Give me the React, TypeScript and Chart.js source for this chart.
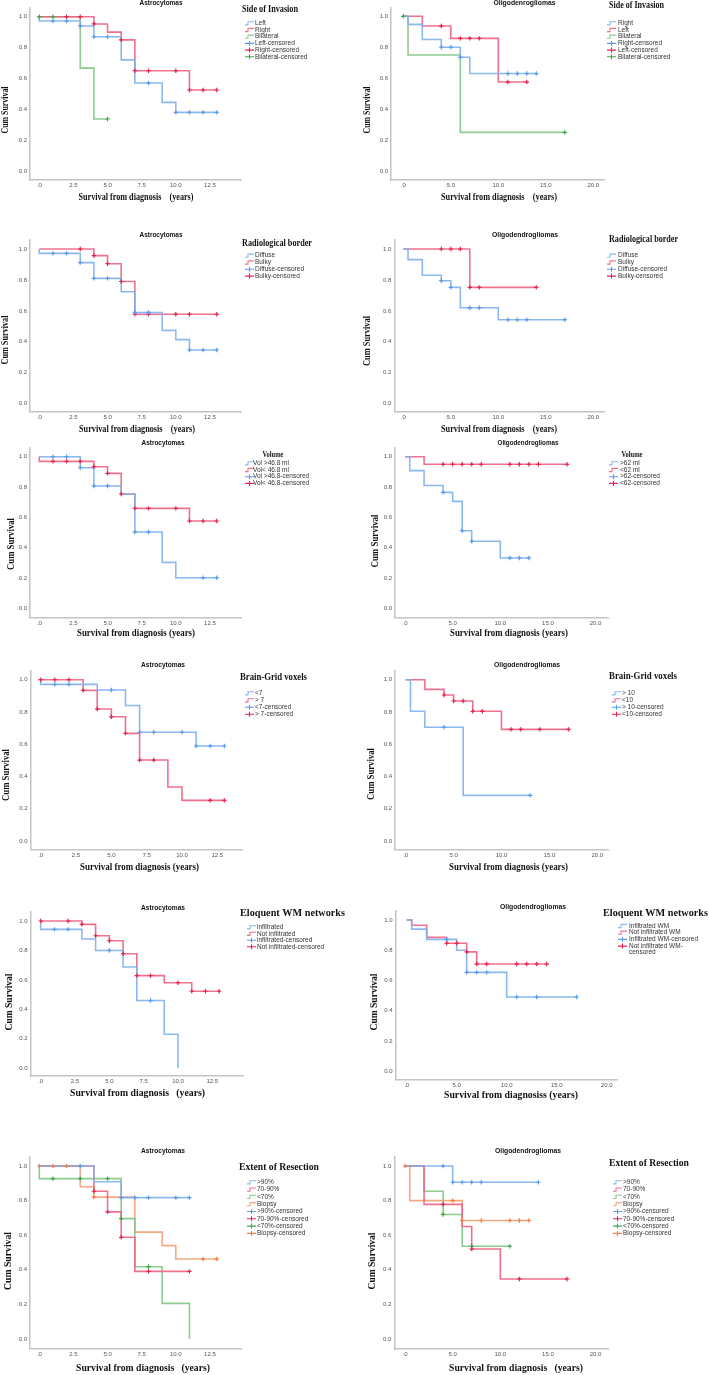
import React, { useEffect, useRef } from "react";
import { Chart, registerables } from "chart.js";
Chart.register(...registerables);

// ---------------- ticks ----------------
const yTickValues = [0, 0.2, 0.4, 0.6, 0.8, 1.0];
const xTicksAstro = [0, 2.5, 5, 7.5, 10, 12.5];
const xTicksOligo = [0, 5, 10, 15, 20];

// ---------------- Row 1 : Side of Invasion ----------------
const a1Groups = ["Left", "Right", "Bilateral"];
const a1LeftT = [0, 0, 3, 4, 6, 7, 9, 10, 13];
const a1LeftS = [1, 0.972, 0.94, 0.87, 0.72, 0.57, 0.445, 0.38, 0.38];
const a1LeftC = [1, 2, 3, 4, 5, 8, 10, 11, 12, 13];
const a1RightT = [0, 4, 5, 6, 7, 11, 13];
const a1RightS = [1, 0.953, 0.9, 0.85, 0.65, 0.525, 0.525];
const a1RightC = [2, 3, 4, 6, 7, 8, 10, 11, 12, 13];
const a1BilT = [0, 3, 4, 5];
const a1BilS = [1, 0.667, 0.337, 0.337];
const a1BilC = [0, 1, 5];

const o1Groups = ["Right", "Left", "Bilateral"];
const o1RightT = [0, 0.5, 2, 4, 6, 7, 14];
const o1RightS = [1, 0.948, 0.85, 0.8, 0.735, 0.63, 0.63];
const o1RightC = [4, 5, 6, 11, 12, 13, 14];
const o1LeftT = [0, 2, 5, 10, 13];
const o1LeftS = [1, 0.9375, 0.857, 0.575, 0.575];
const o1LeftC = [4, 6, 7, 8, 11, 13];
const o1BilT = [0, 0.5, 6, 17];
const o1BilS = [1, 0.75, 0.25, 0.25];
const o1BilC = [0, 17];

// ---------------- Row 2 : Radiological border ----------------
const a2Groups = ["Diffuse", "Bulky"];
const a2DiffT = [0, 0, 3, 4, 6, 7, 9, 10, 11, 13];
const a2DiffS = [1, 0.972, 0.912, 0.81, 0.724, 0.59, 0.474, 0.414, 0.347, 0.347];
const a2DiffC = [1, 2, 3, 4, 5, 7, 8, 11, 12, 13];
const a2BulkT = [0, 4, 5, 6, 7, 13];
const a2BulkS = [1, 0.957, 0.905, 0.79, 0.578, 0.578];
const a2BulkC = [3, 4, 5, 6, 7, 8, 10, 11, 13];

const o2Groups = ["Diffuse", "Bulky"];
const o2DiffT = [0, 0.5, 2, 4, 5, 6, 10, 17];
const o2DiffS = [1, 0.931, 0.83, 0.795, 0.752, 0.62, 0.543, 0.543];
const o2DiffC = [4, 5, 7, 8, 11, 12, 13, 17];
const o2BulkT = [0, 7, 14];
const o2BulkS = [1, 0.752, 0.752];
const o2BulkC = [4, 5, 6, 7, 8, 14];

// ---------------- Row 3 : Volume ----------------
const a3Groups = ["Vol >46.8 ml", "Vol< 46.8 ml"];
const a3CensLabels = ["Vol >46.8-censored", "Vol< 46.8-censored"];
const a3HiT = [0, 3, 4, 6, 7, 9, 10, 13];
const a3HiS = [1, 0.927, 0.807, 0.752, 0.503, 0.303, 0.202, 0.202];
const a3HiC = [1, 2, 3, 4, 5, 7, 8, 12, 13];
const a3LoT = [0, 0, 4, 5, 6, 7, 11, 13];
const a3LoS = [1, 0.969, 0.934, 0.89, 0.754, 0.659, 0.576, 0.576];
const a3LoC = [1, 2, 3, 4, 5, 6, 7, 8, 10, 11, 12, 13];

const o3Groups = [">62 ml", "<62 ml"];
const o3CensLabels = [">62-censored", "<62-censored"];
const o3HiT = [0, 0.5, 2, 4, 5, 6, 7, 10, 13];
const o3HiS = [1, 0.908, 0.81, 0.765, 0.705, 0.512, 0.442, 0.332, 0.332];
const o3HiC = [4, 6, 7, 11, 12, 13];
const o3LoT = [0, 2, 17];
const o3LoS = [1, 0.95, 0.95];
const o3LoC = [4, 5, 6, 7, 8, 11, 12, 13, 14, 17];

// ---------------- Row 4 : Brain-Grid voxels ----------------
const a4Groups = ["<7", "> 7"];
const a4LtT = [0, 0, 4, 6, 7, 11, 13];
const a4LtS = [1, 0.971, 0.936, 0.84, 0.674, 0.589, 0.589];
const a4LtC = [1, 2, 5, 7, 8, 10, 11, 12, 13];
const a4GtT = [0, 3, 4, 5, 6, 7, 9, 10, 13];
const a4GtS = [1, 0.934, 0.818, 0.77, 0.667, 0.502, 0.335, 0.252, 0.252];
const a4GtC = [0, 1, 2, 3, 4, 5, 6, 7, 8, 12, 13];

const o4Groups = ["> 10", "<10"];
const o4GtT = [0, 0.5, 2, 6, 13];
const o4GtS = [1, 0.804, 0.705, 0.283, 0.283];
const o4GtC = [4, 13];
const o4LtT = [0, 2, 4, 5, 7, 10, 17];
const o4LtS = [1, 0.94, 0.905, 0.868, 0.804, 0.692, 0.692];
const o4LtC = [4, 5, 6, 7, 8, 11, 12, 14, 17];

// ---------------- Row 5 : Eloquent WM networks ----------------
const a5Groups = ["infiltrated", "Not infiltrated"];
const a5InfT = [0, 0, 3, 4, 6, 7, 9, 10];
const a5InfS = [1, 0.943, 0.878, 0.8, 0.688, 0.46, 0.231, 0.0];
const a5InfC = [1, 2, 5, 8];
const a5NotT = [0, 3, 4, 5, 6, 7, 9, 11, 13];
const a5NotS = [1, 0.977, 0.9, 0.866, 0.778, 0.629, 0.581, 0.523, 0.523];
const a5NotC = [0, 2, 3, 4, 5, 6, 7, 8, 10, 11, 12, 13];

const o5Groups = ["Infiltrated WM", "Not infiltrated WM"];
const o5CensLabels = ["Infiltrated WM-censored", "Not infiltrated WM-\ncensored"];
const o5InfT = [0, 0.5, 2, 5, 6, 10, 17];
const o5InfS = [1, 0.94, 0.872, 0.8, 0.654, 0.491, 0.491];
const o5InfC = [4, 6, 7, 8, 11, 13, 17];
const o5NotT = [0, 0.5, 2, 4, 6, 7, 14];
const o5NotS = [1, 0.965, 0.885, 0.846, 0.789, 0.709, 0.709];
const o5NotC = [4, 5, 6, 7, 8, 11, 12, 13, 14];

// ---------------- Row 6 : Extent of Resection ----------------
const a6Groups = [">90%", "70-90%", "<70%", "Biopsy"];
const a6G90T = [0, 4, 6, 11];
const a6G90S = [1, 0.909, 0.817, 0.817];
const a6G90C = [3, 6, 7, 8, 10, 11];
const a6MidT = [0, 4, 5, 6, 7, 11];
const a6MidS = [1, 0.854, 0.735, 0.588, 0.391, 0.391];
const a6MidC = [4, 5, 6, 8, 11];
const a6L70T = [0, 0, 6, 7, 9, 11];
const a6L70S = [1, 0.927, 0.696, 0.418, 0.206, 0.0];
const a6L70C = [1, 3, 5, 6, 8];
const a6BioT = [0, 3, 4, 7, 9, 10, 13];
const a6BioS = [1, 0.88, 0.82, 0.618, 0.54, 0.462, 0.462];
const a6BioC = [0, 1, 2, 4, 12, 13];

const o6Groups = [">90%", "70-90%", "<70%", "Biopsy"];
const o6G90T = [0, 5, 14];
const o6G90S = [1, 0.906, 0.906];
const o6G90C = [4, 5, 6, 7, 8, 14];
const o6MidT = [0, 2, 6, 7, 10, 17];
const o6MidS = [1, 0.778, 0.65, 0.52, 0.347, 0.347];
const o6MidC = [4, 7, 12, 17];
const o6L70T = [0, 2, 4, 6, 11];
const o6L70S = [1, 0.854, 0.72, 0.536, 0.536];
const o6L70C = [4, 7, 11];
const o6BioT = [0, 0.5, 6, 13];
const o6BioS = [1, 0.8, 0.685, 0.685];
const o6BioC = [0, 5, 6, 8, 11, 12, 13];

// ---------------- styling ----------------
const SERIF = '"Liberation Serif", "Times New Roman", serif';
const SANS = '"Liberation Sans", Arial, sans-serif';
const AXIS = "#c4c4c4";
type ColKey = "blue" | "red" | "green" | "orange";
const COLORS: Record<ColKey, { line: string; mark: string }> = {
  blue: { line: "rgba(128,176,238,0.9)", mark: "#5b9be8" },
  red: { line: "rgba(238,98,130,0.9)", mark: "#e3254f" },
  green: { line: "rgba(128,198,130,0.9)", mark: "#3fa649" },
  orange: { line: "rgba(246,164,122,0.95)", mark: "#f0803f" },
};

type Grp = { t: number[]; s: number[]; c: number[]; col: ColKey };
type TextPos = { text: string; x: number; y: number; w?: number };
type PanelCfg = {
  ox: number; oy: number; w: number; h: number;
  L: number; R: number; T: number; B: number; Y1: number; Y0: number; X0: number; kx: number;
  xTicks: number[];
  groups: Grp[];
  lineLabels: string[];
  censLabels: string[];
  title: TextPos;
  legTitle: TextPos & { size: number; align: "left" | "center" };
  yTitle: { x: number; y: number; len: number };
  xTitle: TextPos;
  leg: { ix: number; tx: number; y0: number; dy: number };
};

const cens = (g: string[]) => g.map((s) => s + "-censored");

const LX = 0, LW = 355, RX = 355, RW = 354;

const panels: PanelCfg[] = [
  {
    ox: LX, oy: 0, w: LW, h: 222,
    L: 30, R: 241, T: 8, B: 180, Y1: 16.7, Y0: 171, X0: 39.3, kx: 13.65, xTicks: xTicksAstro,
    groups: [
      { t: a1LeftT, s: a1LeftS, c: a1LeftC, col: "blue" },
      { t: a1RightT, s: a1RightS, c: a1RightC, col: "red" },
      { t: a1BilT, s: a1BilS, c: a1BilC, col: "green" },
    ],
    lineLabels: a1Groups, censLabels: cens(a1Groups),
    title: { text: "Astrocytomas", x: 161, y: 3, w: 43 },
    legTitle: { text: "Side of Invasion", x: 242, y: 9, w: 56, size: 11, align: "left" },
    yTitle: { x: 5, y: 110, len: 47 },
    xTitle: { text: "Survival from diagnosis    (years)", x: 136, y: 197, w: 115 },
    leg: { ix: 245, tx: 255, y0: 23.3, dy: 6.7 },
  },
  {
    ox: RX, oy: 0, w: RW, h: 222,
    L: 391, R: 604, T: 8, B: 180, Y1: 16.3, Y0: 171, X0: 403.3, kx: 9.5, xTicks: xTicksOligo,
    groups: [
      { t: o1RightT, s: o1RightS, c: o1RightC, col: "blue" },
      { t: o1LeftT, s: o1LeftS, c: o1LeftC, col: "red" },
      { t: o1BilT, s: o1BilS, c: o1BilC, col: "green" },
    ],
    lineLabels: o1Groups, censLabels: cens(o1Groups),
    title: { text: "Oligodenrogliomas", x: 524.5, y: 3, w: 62 },
    legTitle: { text: "Side of Invasion", x: 609, y: 5, w: 55, size: 11, align: "left" },
    yTitle: { x: 367.5, y: 110, len: 47 },
    xTitle: { text: "Survival from diagnosis    (years)", x: 499, y: 197, w: 116 },
    leg: { ix: 607, tx: 618, y0: 23.3, dy: 6.7 },
  },
  {
    ox: LX, oy: 225, w: LW, h: 215,
    L: 30, R: 241, T: 240, B: 411.7, Y1: 249, Y0: 403.7, X0: 39.3, kx: 13.65, xTicks: xTicksAstro,
    groups: [
      { t: a2DiffT, s: a2DiffS, c: a2DiffC, col: "blue" },
      { t: a2BulkT, s: a2BulkS, c: a2BulkC, col: "red" },
    ],
    lineLabels: a2Groups, censLabels: cens(a2Groups),
    title: { text: "Astrocytomas", x: 161, y: 235, w: 43 },
    legTitle: { text: "Radiological border", x: 242, y: 243, w: 70, size: 11, align: "left" },
    yTitle: { x: 5, y: 340, len: 49 },
    xTitle: { text: "Survival from diagnosis    (years)", x: 137, y: 429, w: 116 },
    leg: { ix: 245, tx: 255, y0: 255.7, dy: 6.8 },
  },
  {
    ox: RX, oy: 225, w: RW, h: 215,
    L: 394.3, R: 604.3, T: 240, B: 411.7, Y1: 249, Y0: 403.7, X0: 403.3, kx: 9.5, xTicks: xTicksOligo,
    groups: [
      { t: o2DiffT, s: o2DiffS, c: o2DiffC, col: "blue" },
      { t: o2BulkT, s: o2BulkS, c: o2BulkC, col: "red" },
    ],
    lineLabels: o2Groups, censLabels: cens(o2Groups),
    title: { text: "Oligodendrogliomas", x: 525, y: 235, w: 66 },
    legTitle: { text: "Radiological border", x: 609, y: 239, w: 69, size: 11, align: "left" },
    yTitle: { x: 367.5, y: 341, len: 50 },
    xTitle: { text: "Survival from diagnosis    (years)", x: 499, y: 429, w: 116 },
    leg: { ix: 607, tx: 618, y0: 255.7, dy: 6.8 },
  },
  {
    ox: LX, oy: 437, w: LW, h: 208,
    L: 30, R: 241.7, T: 447.7, B: 617.3, Y1: 456.7, Y0: 608.3, X0: 39.3, kx: 13.65, xTicks: xTicksAstro,
    groups: [
      { t: a3HiT, s: a3HiS, c: a3HiC, col: "blue" },
      { t: a3LoT, s: a3LoS, c: a3LoC, col: "red" },
    ],
    lineLabels: a3Groups, censLabels: a3CensLabels,
    title: { text: "Astrocytomas", x: 163, y: 443, w: 43 },
    legTitle: { text: "Volume", x: 273, y: 455, w: 21, size: 8, align: "center" },
    yTitle: { x: 10.7, y: 544, len: 52 },
    xTitle: { text: "Survival from diagnosis (years)", x: 136, y: 633, w: 118 },
    leg: { ix: 245, tx: 253, y0: 463.3, dy: 6.7 },
  },
  {
    ox: RX, oy: 437, w: RW, h: 208,
    L: 395, R: 608.3, T: 447.7, B: 617.3, Y1: 456.7, Y0: 608.3, X0: 405, kx: 9.53, xTicks: xTicksOligo,
    groups: [
      { t: o3HiT, s: o3HiS, c: o3HiC, col: "blue" },
      { t: o3LoT, s: o3LoS, c: o3LoC, col: "red" },
    ],
    lineLabels: o3Groups, censLabels: o3CensLabels,
    title: { text: "Oligodendrogliomas", x: 528, y: 443, w: 61 },
    legTitle: { text: "Volume", x: 632, y: 455, w: 21, size: 8, align: "center" },
    yTitle: { x: 375, y: 541, len: 53 },
    xTitle: { text: "Survival from diagnosis (years)", x: 509, y: 633, w: 118 },
    leg: { ix: 609, tx: 620, y0: 463.3, dy: 6.7 },
  },
  {
    ox: LX, oy: 655, w: LW, h: 222,
    L: 30.7, R: 242.7, T: 671, B: 849.3, Y1: 679.7, Y0: 841, X0: 40.7, kx: 14.13, xTicks: xTicksAstro,
    groups: [
      { t: a4LtT, s: a4LtS, c: a4LtC, col: "blue" },
      { t: a4GtT, s: a4GtS, c: a4GtC, col: "red" },
    ],
    lineLabels: a4Groups, censLabels: cens(a4Groups),
    title: { text: "Astrocytomas", x: 163, y: 665, w: 44 },
    legTitle: { text: "Brain-Grid voxels", x: 240, y: 677, w: 67, size: 11, align: "left" },
    yTitle: { x: 6, y: 775, len: 52 },
    xTitle: { text: "Survival from diagnosis (years)", x: 139.5, y: 867, w: 119 },
    leg: { ix: 245, tx: 255, y0: 693.3, dy: 7 },
  },
  {
    ox: RX, oy: 655, w: RW, h: 222,
    L: 395, R: 608.3, T: 671, B: 849.3, Y1: 679.7, Y0: 841, X0: 405.7, kx: 9.58, xTicks: xTicksOligo,
    groups: [
      { t: o4GtT, s: o4GtS, c: o4GtC, col: "blue" },
      { t: o4LtT, s: o4LtS, c: o4LtC, col: "red" },
    ],
    lineLabels: o4Groups, censLabels: cens(o4Groups),
    title: { text: "Oligodendrogliomas", x: 527, y: 665, w: 66 },
    legTitle: { text: "Brain-Grid voxels", x: 609, y: 676, w: 68, size: 11, align: "left" },
    yTitle: { x: 371, y: 774, len: 52 },
    xTitle: { text: "Survival from diagnosis (years)", x: 508.5, y: 867, w: 119 },
    leg: { ix: 612, tx: 622, y0: 693.3, dy: 7 },
  },
  {
    ox: LX, oy: 895, w: LW, h: 210,
    L: 30.7, R: 243.3, T: 912, B: 1076, Y1: 921, Y0: 1068.3, X0: 40.7, kx: 13.73, xTicks: xTicksAstro,
    groups: [
      { t: a5InfT, s: a5InfS, c: a5InfC, col: "blue" },
      { t: a5NotT, s: a5NotS, c: a5NotC, col: "red" },
    ],
    lineLabels: a5Groups, censLabels: cens(a5Groups),
    title: { text: "Astrocytomas", x: 163, y: 908, w: 44 },
    legTitle: { text: "Eloquent WM networks", x: 240, y: 913, w: 105, size: 11, align: "left" },
    yTitle: { x: 9, y: 1002, len: 57 },
    xTitle: { text: "Survival from diagnosis   (years)", x: 137.5, y: 1093, w: 135 },
    leg: { ix: 247, tx: 257, y0: 927.3, dy: 6.5 },
  },
  {
    ox: RX, oy: 895, w: RW, h: 210,
    L: 395.7, R: 617.7, T: 911, B: 1079.3, Y1: 920, Y0: 1071.3, X0: 406.7, kx: 10, xTicks: xTicksOligo,
    groups: [
      { t: o5InfT, s: o5InfS, c: o5InfC, col: "blue" },
      { t: o5NotT, s: o5NotS, c: o5NotC, col: "red" },
    ],
    lineLabels: o5Groups, censLabels: o5CensLabels,
    title: { text: "Oligodendrogliomas", x: 533, y: 907, w: 66 },
    legTitle: { text: "Eloquent WM networks", x: 603, y: 913, w: 105, size: 11, align: "left" },
    yTitle: { x: 374, y: 1002, len: 57 },
    xTitle: { text: "Survival from diagnosiss (years)", x: 511, y: 1095, w: 134 },
    leg: { ix: 618, tx: 629, y0: 926, dy: 6.7 },
  },
  {
    ox: LX, oy: 1140, w: LW, h: 235,
    L: 30, R: 241.7, T: 1157, B: 1348.3, Y1: 1166, Y0: 1339, X0: 39.3, kx: 13.65, xTicks: xTicksAstro,
    groups: [
      { t: a6G90T, s: a6G90S, c: a6G90C, col: "blue" },
      { t: a6MidT, s: a6MidS, c: a6MidC, col: "red" },
      { t: a6L70T, s: a6L70S, c: a6L70C, col: "green" },
      { t: a6BioT, s: a6BioS, c: a6BioC, col: "orange" },
    ],
    lineLabels: a6Groups, censLabels: cens(a6Groups),
    title: { text: "Astrocytomas", x: 163, y: 1151, w: 44 },
    legTitle: { text: "Extent of Resection", x: 239, y: 1167, w: 80, size: 11, align: "left" },
    yTitle: { x: 8, y: 1261, len: 58 },
    xTitle: { text: "Survival from diagnosis   (years)", x: 143, y: 1368, w: 134 },
    leg: { ix: 247, tx: 257, y0: 1182.3, dy: 7.3 },
  },
  {
    ox: RX, oy: 1140, w: RW, h: 235,
    L: 394.3, R: 608.3, T: 1157, B: 1349, Y1: 1166, Y0: 1339, X0: 405, kx: 9.53, xTicks: xTicksOligo,
    groups: [
      { t: o6G90T, s: o6G90S, c: o6G90C, col: "blue" },
      { t: o6MidT, s: o6MidS, c: o6MidC, col: "red" },
      { t: o6L70T, s: o6L70S, c: o6L70C, col: "green" },
      { t: o6BioT, s: o6BioS, c: o6BioC, col: "orange" },
    ],
    lineLabels: o6Groups, censLabels: cens(o6Groups),
    title: { text: "Oligodendrogliomas", x: 528, y: 1151, w: 66 },
    legTitle: { text: "Extent of Resection", x: 609, y: 1163, w: 80, size: 11, align: "left" },
    yTitle: { x: 372, y: 1261, len: 57 },
    xTitle: { text: "Survival from diagnosis   (years)", x: 516, y: 1368, w: 134 },
    leg: { ix: 613, tx: 623, y0: 1182.3, dy: 7.3 },
  },
];

function survAt(t: number[], s: number[], x: number) {
  let v = s[0];
  for (let i = 0; i < t.length; i++) if (t[i] <= x) v = s[i];
  return v;
}

function txt(
  ctx: CanvasRenderingContext2D, s: string, x: number, y: number, font: string,
  align: "left" | "center", w?: number, rot?: boolean, color = "#111"
) {
  ctx.save();
  ctx.font = font;
  ctx.fillStyle = color;
  ctx.textBaseline = "middle";
  ctx.textAlign = align;
  const m = ctx.measureText(s).width;
  const sx = w ? w / m : 1;
  ctx.translate(x, y);
  if (rot) ctx.rotate(-Math.PI / 2);
  ctx.scale(sx, 1);
  ctx.fillText(s, 0, 0);
  ctx.restore();
}

function drawDecor(ctx: CanvasRenderingContext2D, p: PanelCfg) {
  const X = (x: number) => x - p.ox;
  const Y = (y: number) => y - p.oy;
  txt(ctx, p.title.text, X(p.title.x), Y(p.title.y), `bold 8px ${SANS}`, "center", p.title.w);
  txt(ctx, p.legTitle.text, X(p.legTitle.x), Y(p.legTitle.y), `bold ${p.legTitle.size}px ${SERIF}`, p.legTitle.align, p.legTitle.w);
  txt(ctx, "Cum Survival", X(p.yTitle.x), Y(p.yTitle.y), `bold 11px ${SERIF}`, "center", p.yTitle.len, true);
  txt(ctx, p.xTitle.text, X(p.xTitle.x), Y(p.xTitle.y), `bold 11px ${SERIF}`, "center", p.xTitle.w);

  const { ix, tx, y0, dy } = p.leg;
  const items = [
    ...p.groups.map((g, i) => ({ kind: "line", col: g.col, label: p.lineLabels[i] })),
    ...p.groups.map((g, i) => ({ kind: "cens", col: g.col, label: p.censLabels[i] })),
  ];
  items.forEach((it, k) => {
    const y = Y(y0 + k * dy);
    const x = X(ix);
    const c = COLORS[it.col as ColKey];
    ctx.save();
    ctx.lineWidth = 1.1;
    if (it.kind === "line") {
      ctx.strokeStyle = c.line;
      ctx.beginPath();
      ctx.moveTo(x, y + 1.6);
      ctx.lineTo(x + 3, y + 1.6);
      ctx.lineTo(x + 3, y - 1.6);
      ctx.lineTo(x + 9, y - 1.6);
      ctx.stroke();
    } else {
      ctx.strokeStyle = c.mark;
      ctx.beginPath();
      ctx.moveTo(x, y);
      ctx.lineTo(x + 9, y);
      ctx.moveTo(x + 4.5, y - 2.5);
      ctx.lineTo(x + 4.5, y + 2.5);
      ctx.stroke();
    }
    ctx.restore();
    const lines = it.label.split("\n");
    lines.forEach((ln, j) => {
      txt(ctx, ln, X(tx), y + j * dy * 0.85, `6.5px ${SANS}`, "left", undefined, false, "#333");
    });
  });
}

function KMPanel({ p }: { p: PanelCfg }) {
  const ref = useRef<HTMLCanvasElement>(null);
  useEffect(() => {
    const cv = ref.current;
    if (!cv) return;
    const ky = p.Y0 - p.Y1;
    const yMin = -(p.B - p.Y0) / ky;
    const yMax = 1 + (p.Y1 - p.T) / ky;
    const xMin = -(p.X0 - p.L) / p.kx;
    const xMax = (p.R - p.X0) / p.kx;

    const lineSets = p.groups.map((g) => ({
      data: g.t.map((t, i) => ({ x: t, y: g.s[i] })),
      stepped: "before" as const,
      borderColor: COLORS[g.col].line,
      borderWidth: 1.6,
      pointRadius: 0,
      fill: false,
      order: 2,
    }));
    const censSets = p.groups.map((g) => ({
      data: g.c.map((t) => ({ x: t, y: survAt(g.t, g.s, t) })),
      showLine: false,
      pointStyle: "cross" as const,
      pointRadius: 2.2,
      pointBorderWidth: 1.2,
      borderColor: COLORS[g.col].mark,
      pointBorderColor: COLORS[g.col].mark,
      backgroundColor: COLORS[g.col].mark,
      order: 1,
    }));

    const chart = new Chart(cv, {
      type: "line",
      data: { datasets: [...lineSets, ...censSets] as any },
      options: {
        animation: false,
        responsive: false,
        maintainAspectRatio: false,
        events: [],
        layout: { padding: { top: p.T - p.oy, right: p.ox + p.w - p.R, left: 0, bottom: 0 } },
        plugins: { legend: { display: false }, tooltip: { enabled: false }, title: { display: false } },
        scales: {
          x: {
            type: "linear",
            min: xMin,
            max: xMax,
            afterBuildTicks: (s: any) => { s.ticks = p.xTicks.map((v) => ({ value: v })); },
            afterFit: (s: any) => { s.height = p.oy + p.h - p.B; },
            grid: { display: false, drawTicks: false },
            border: { display: true, color: AXIS, width: 1.5 },
            ticks: {
              autoSkip: false, maxRotation: 0, padding: 2, color: "#555",
              font: { size: 6, family: SANS },
              callback: (v: any) => (Number(v) === 0 ? ".0" : Number(v).toFixed(1)),
            },
          },
          y: {
            type: "linear",
            min: yMin,
            max: yMax,
            afterBuildTicks: (s: any) => { s.ticks = yTickValues.map((v) => ({ value: v })); },
            afterFit: (s: any) => { s.width = p.L - p.ox; },
            grid: { display: false, drawTicks: false },
            border: { display: true, color: AXIS, width: 1.5 },
            ticks: {
              autoSkip: false, padding: 3, color: "#555",
              font: { size: 6, family: SANS },
              callback: (v: any) => Number(v).toFixed(1),
            },
          },
        },
      } as any,
      plugins: [{ id: "decor", afterDraw: (c: any) => drawDecor(c.ctx, p) }],
    });
    return () => chart.destroy();
  }, [p]);
  return (
    <canvas
      ref={ref}
      width={p.w}
      height={p.h}
      style={{ position: "absolute", left: p.ox, top: p.oy, width: p.w, height: p.h }}
    />
  );
}

export default function App() {
  return (
    <div style={{ position: "absolute", left: 0, top: 0, width: 709, height: 1375, background: "#fff" }}>
      {panels.map((p, i) => (
        <KMPanel key={i} p={p} />
      ))}
    </div>
  );
}
